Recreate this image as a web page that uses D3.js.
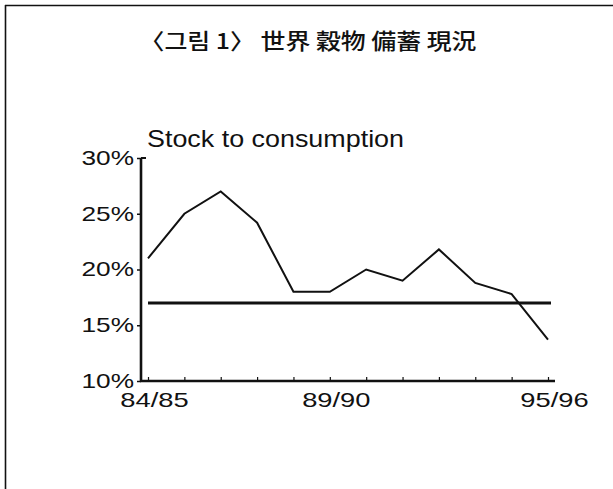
<!DOCTYPE html>
<html>
<head>
<meta charset="utf-8">
<script src="https://cdn.jsdelivr.net/npm/d3@7/dist/d3.min.js"></script>
<style>
html,body{margin:0;padding:0;background:#fff;}
svg{display:block;}
</style>
</head>
<body>
<svg id="chart" width="613" height="489"></svg>
<script>
const title = "〈그림 1〉 世界 穀物 備蓄 現況";
const yTitle = "Stock to consumption";
const categories = ["84/85","85/86","86/87","87/88","88/89","89/90","90/91","91/92","92/93","93/94","94/95","95/96"];
const stockRatio = [21, 25, 27, 24.2, 18, 18, 20, 19, 21.8, 18.8, 17.8, 13.7];
const referenceLevel = [17];
const yTicks = [10, 15, 20, 25, 30];
const xTickLabels = ["84/85", "89/90", "95/96"];

const svg = d3.select("#chart");
const font = "'Liberation Sans', Arial, Helvetica, sans-serif";

// frame (top + left border)
svg.append("line").attr("x1", 5).attr("x2", 613).attr("y1", 5.5).attr("y2", 5.5)
  .attr("stroke", "#111").attr("stroke-width", 1.6);
svg.append("line").attr("x1", 5.5).attr("x2", 5.5).attr("y1", 5).attr("y2", 489)
  .attr("stroke", "#111").attr("stroke-width", 1.6);

// title
svg.append("text").attr("x", 308).attr("y", 49).attr("text-anchor", "middle")
  .attr("font-family", "'Noto Sans CJK KR', 'Noto Sans CJK SC', sans-serif")
  .attr("font-size", 22).attr("font-weight", 500).attr("fill", "#111")
  .attr("textLength", 337).attr("lengthAdjust", "spacingAndGlyphs")
  .text(title);

const x = d3.scalePoint().domain(categories).range([148, 548]);
const y = d3.scaleLinear().domain([10, 30]).range([381, 158]);

// y axis
const yAxis = svg.append("g").attr("transform", "translate(141,0)")
  .call(d3.axisLeft(y).tickValues(yTicks).tickFormat(d => d + "%").tickSize(4).tickPadding(3));
yAxis.select(".domain").attr("stroke", "#111").attr("stroke-width", 2.6).attr("d", `M0,${y(30)}V${y(10)}`);
yAxis.selectAll(".tick line").attr("stroke", "#111").attr("stroke-width", 1.5);
yAxis.selectAll(".tick text").attr("font-family", font).attr("font-size", 21).attr("fill", "#111")
  .attr("dy", "0.3em");
yAxis.selectAll(".tick text").each(function(){
  const w = this.getComputedTextLength();
  d3.select(this).attr("textLength", w * 1.25).attr("lengthAdjust", "spacingAndGlyphs");
});
// little top cap of y axis
svg.append("line").attr("x1", 141).attr("x2", 146).attr("y1", y(30)).attr("y2", y(30))
  .attr("stroke", "#111").attr("stroke-width", 2);

// x axis
const xAxis = svg.append("g").attr("transform", `translate(0,${y(10)})`)
  .call(d3.axisBottom(x).tickSize(-4).tickPadding(11).tickFormat(d => xTickLabels.includes(d) ? d : ""));
xAxis.select(".domain").attr("stroke", "#111").attr("stroke-width", 2.6).attr("d", `M140,0H555`);
xAxis.selectAll(".tick line").attr("stroke", "#111").attr("stroke-width", 1.2);
xAxis.selectAll(".tick text").attr("font-family", font).attr("font-size", 21).attr("fill", "#111")
  .attr("dx", 6);
xAxis.selectAll(".tick text").each(function(){
  if (!this.textContent) return;
  const w = this.getComputedTextLength();
  d3.select(this).attr("textLength", w * 1.3).attr("lengthAdjust", "spacingAndGlyphs");
});

// y title
svg.append("text").attr("x", 147).attr("y", 147)
  .attr("font-family", font).attr("font-size", 24).attr("fill", "#111")
  .attr("textLength", 257).attr("lengthAdjust", "spacingAndGlyphs")
  .text(yTitle);

// reference line
svg.selectAll(".ref").data(referenceLevel).enter().append("line")
  .attr("class", "ref")
  .attr("x1", x(categories[0])).attr("x2", x(categories[categories.length - 1]) + 3)
  .attr("y1", d => y(d)).attr("y2", d => y(d))
  .attr("stroke", "#111").attr("stroke-width", 3);

// data line
const line = d3.line().x((d, i) => x(categories[i])).y(d => y(d));
svg.append("path").datum(stockRatio).attr("d", line)
  .attr("fill", "none").attr("stroke", "#111").attr("stroke-width", 2)
  .attr("stroke-linejoin", "miter");
</script>
</body>
</html>
